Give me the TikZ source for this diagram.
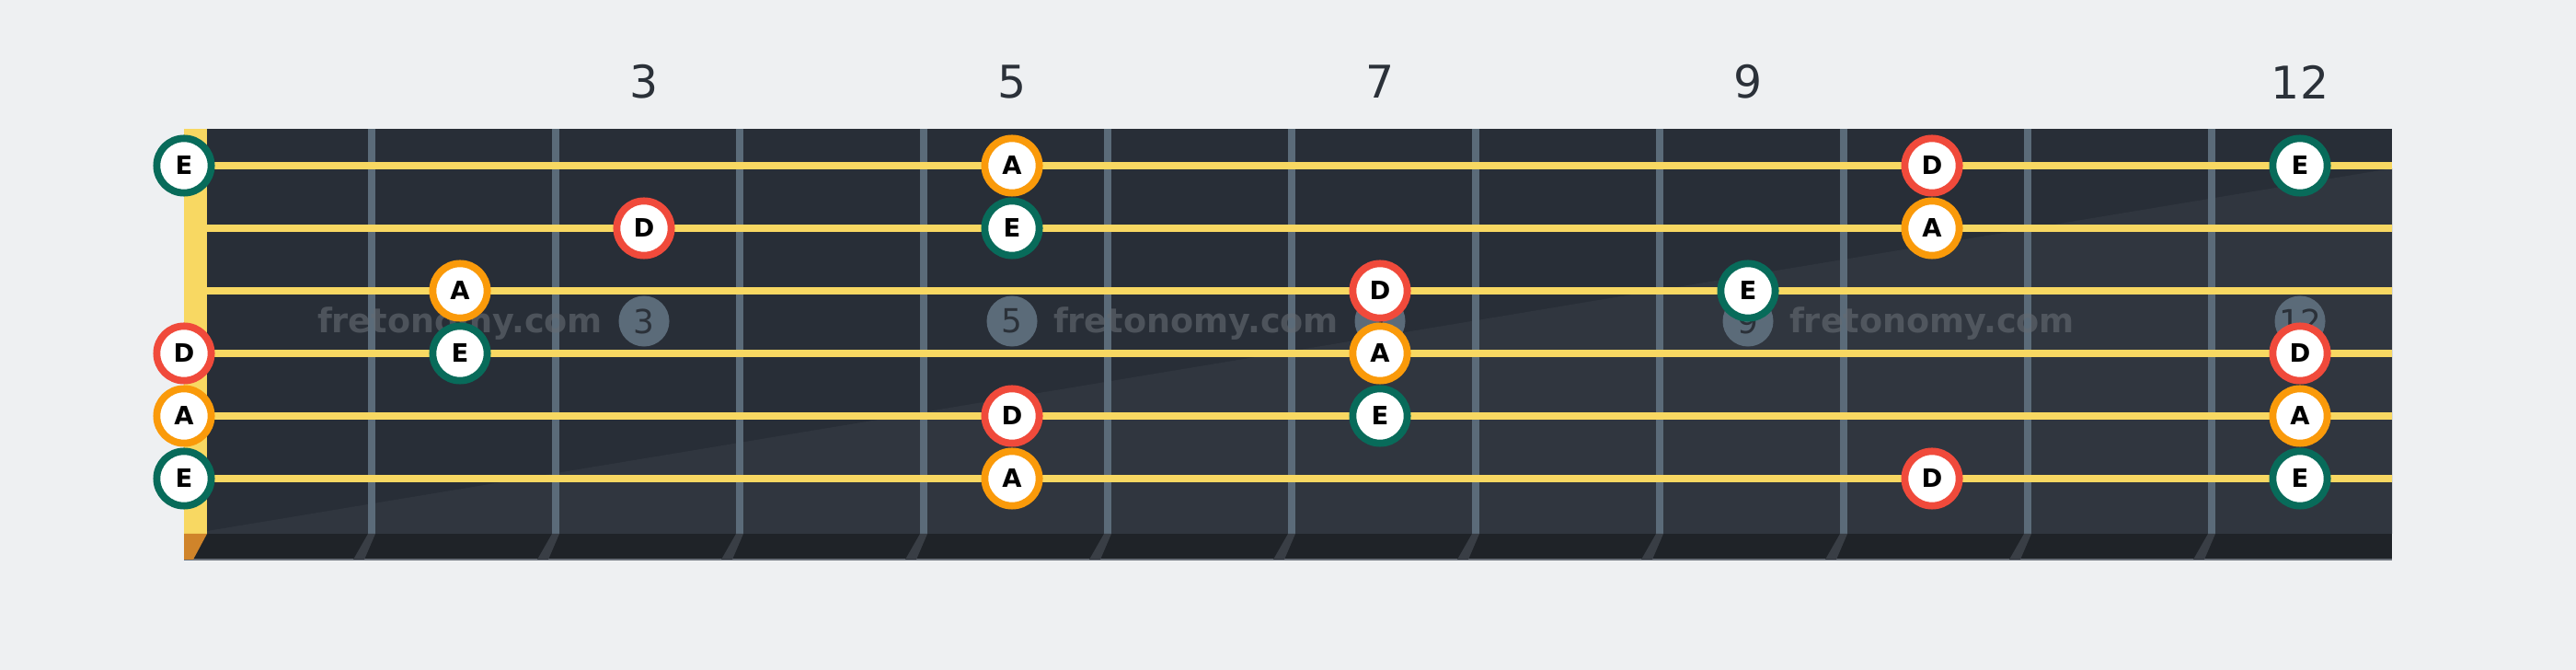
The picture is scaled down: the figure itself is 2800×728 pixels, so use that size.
\documentclass[tikz,border=0pt]{standalone}
\usepackage{fontspec}
\setmainfont{DejaVu Sans}
\definecolor{bg}{HTML}{EEF0F2}
\definecolor{board}{HTML}{282E37}
\definecolor{boardlight}{HTML}{30363F}
\definecolor{strip}{HTML}{1F2328}
\definecolor{gold}{HTML}{F8D862}
\definecolor{fretc}{HTML}{5B6B79}
\definecolor{numc}{HTML}{2B3139}
\definecolor{eclr}{HTML}{086B5A}
\definecolor{dclr}{HTML}{F04A3B}
\definecolor{aclr}{HTML}{FA9A0A}
\definecolor{wmc}{HTML}{666C73}
\definecolor{slantc}{HTML}{393E45}
\definecolor{nutb}{HTML}{D0842A}
\definecolor{edge}{HTML}{6A7079}
\tikzset{
  fretnum/.style={text=numc, inner sep=0pt, font=\fontsize{13.9}{16}\selectfont},
  inlay/.style={circle, fill=fretc, minimum size=0.55cm, inner sep=0pt, text=numc, font=\fontsize{10.2}{12}\selectfont},
  wm/.style={anchor=base, inner sep=0pt, text=wmc, text opacity=0.6, font=\bfseries\fontsize{10.4}{12}\selectfont},
  note/.style={circle, fill=white, line width=0.078cm, minimum size=0.592cm, inner sep=0pt, text=black, font=\bfseries\fontsize{7.8}{9}\selectfont},
  noteE/.style={note, draw=eclr},
  noteD/.style={note, draw=dclr},
  noteA/.style={note, draw=aclr},
  guitarstring/.style={draw=gold, line width=0.08cm}
}
\begin{document}
\begin{tikzpicture}[x=0.01cm, y=-0.01cm]
\fill[bg] (0,0) rectangle (2800,728);
\useasboundingbox (0,0) rectangle (2800,728);
% board
\fill[board] (225,140) rectangle (2600,580);
\fill[boardlight] (225,577) -- (2600,183) -- (2600,580) -- (225,580) -- cycle;
\fill[strip] (200,580) rectangle (2600,608);
\draw[edge, line width=0.02cm] (200,608) -- (2600,608);
\fill[gold] (200,140) rectangle (225,580);
\fill[nutb] (200,580) -- (225,580) -- (210,608) -- (200,608) -- cycle;
% frets
\foreach \k in {0,...,10} {
  \fill[fretc] ({400+200*\k},140) rectangle ({408+200*\k},580);
  \fill[slantc] ({400+200*\k},580) -- ({408+200*\k},580) -- ({396+200*\k},608) -- ({384+200*\k},608) -- cycle;
}
% strings
\foreach \y [count=\i] in {180,248,316,384,452,520} {
  \coordinate (sL\i) at (225,\y);
  \coordinate (sR\i) at (2600,\y);
  \draw[guitarstring] (sL\i) -- (sR\i);
}
% fret numbers
\node[fretnum] (n3) at (700,89) {3};
\node[fretnum] (n5) at (1100,89) {5};
\node[fretnum] (n7) at (1500,89) {7};
\node[fretnum] (n9) at (1900,89) {9};
\node[fretnum] (n12) at (2500,89) {12};
% inlays
\node[inlay] (i3) at (700,349) {3};
\node[inlay] (i5) at (1100,349) {5};
\node[inlay] (i7) at (1500,349) {7};
\node[inlay] (i9) at (1900,349) {9};
\node[inlay] (i12) at (2500,349) {12};
% watermarks
\node[wm] (w1) at (500,362) {fretonomy.com};
\node[wm] (w2) at (1300,362) {fretonomy.com};
\node[wm] (w3) at (2100,362) {fretonomy.com};
% notes string 1
\node[noteE] (s1f0) at (200,180) {E};
\node[noteA] (s1f5) at (1100,180) {A};
\node[noteD] (s1f10) at (2100,180) {D};
\node[noteE] (s1f12) at (2500,180) {E};
% string 2
\node[noteD] (s2f3) at (700,248) {D};
\node[noteE] (s2f5) at (1100,248) {E};
\node[noteA] (s2f10) at (2100,248) {A};
% string 3
\node[noteA] (s3f2) at (500,316) {A};
\node[noteD] (s3f7) at (1500,316) {D};
\node[noteE] (s3f9) at (1900,316) {E};
% string 4
\node[noteD] (s4f0) at (200,384) {D};
\node[noteE] (s4f2) at (500,384) {E};
\node[noteA] (s4f7) at (1500,384) {A};
\node[noteD] (s4f12) at (2500,384) {D};
% string 5
\node[noteA] (s5f0) at (200,452) {A};
\node[noteD] (s5f5) at (1100,452) {D};
\node[noteE] (s5f7) at (1500,452) {E};
\node[noteA] (s5f12) at (2500,452) {A};
% string 6
\node[noteE] (s6f0) at (200,520) {E};
\node[noteA] (s6f5) at (1100,520) {A};
\node[noteD] (s6f10) at (2100,520) {D};
\node[noteE] (s6f12) at (2500,520) {E};
\end{tikzpicture}
\end{document}
